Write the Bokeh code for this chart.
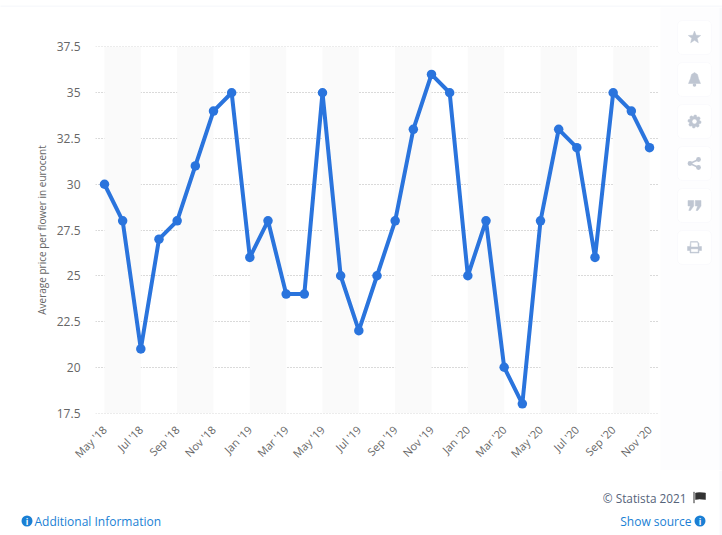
import math
from bokeh.plotting import figure
from bokeh.layouts import column, row
from bokeh.embed import file_html
from bokeh.resources import INLINE
from bokeh.models import Range1d, FixedTicker, BoxAnnotation
from bokeh.core.properties import value

months = ["May '18","Jun '18","Jul '18","Aug '18","Sep '18","Oct '18","Nov '18","Dec '18",
          "Jan '19","Feb '19","Mar '19","Apr '19","May '19","Jun '19","Jul '19","Aug '19",
          "Sep '19","Oct '19","Nov '19","Dec '19","Jan '20","Feb '20","Mar '20","Apr '20",
          "May '20","Jun '20","Jul '20","Aug '20","Sep '20","Oct '20","Nov '20"]
prices = [30,28,21,27,28,31,34,35,26,28,24,24,35,25,22,25,28,33,36,35,25,28,20,18,28,33,32,26,35,34,32]
y_ticks = [17.5,20,22.5,25,27.5,30,32.5,35,37.5]
y_title = "Average price per flower in eurocent"

FONT = "Open Sans"
PAGE = "#f8f9fc"
idx = list(range(len(months)))

# thin strip above the card
strip = figure(width=722, height=7, output_backend="svg", toolbar_location=None,
               x_axis_location=None, y_axis_location=None, min_border=0,
               x_range=Range1d(0, 722), y_range=Range1d(7, 0),
               background_fill_color=PAGE, border_fill_color=PAGE, outline_line_color=None)
strip.xgrid.visible = False
strip.ygrid.visible = False

# main chart
p = figure(width=660, height=463, output_backend="svg", toolbar_location=None,
           x_range=Range1d(-0.495, 30.495), y_range=Range1d(17.473, 37.527),
           min_border_left=95, min_border_right=2, min_border_top=39, min_border_bottom=57,
           background_fill_color="white", border_fill_color="white", outline_line_color=None)

p.quad(left=idx[0:30:4], right=idx[2:32:4], bottom=y_ticks[0], top=y_ticks[-1],
       fill_color="#fafafa", line_color=None)
p.line(idx, prices, line_color="#2a74dd", line_width=4, line_join="round")
p.scatter(idx, prices, size=9.5, fill_color="#2a74dd", line_color="#2a74dd", line_width=0)

p.xgrid.visible = False
p.ygrid.ticker = FixedTicker(ticks=y_ticks)
p.ygrid.grid_line_color = "#b4b4b4"
p.ygrid.grid_line_dash = "1 2"
p.ygrid.grid_line_width = 1

yax = p.yaxis[0]
yax.ticker = FixedTicker(ticks=y_ticks)
yax.major_label_overrides = {t: (str(int(t)) if t == int(t) else str(t)) for t in y_ticks}
yax.axis_line_color = None
yax.major_tick_line_color = None
yax.minor_tick_line_color = None
yax.major_label_text_font = FONT
yax.major_label_text_font_size = "12px"
yax.major_label_text_color = "#666666"
yax.major_label_standoff = 9
yax.axis_label = y_title
yax.axis_label_text_font = FONT
yax.axis_label_text_font_size = "10px"
yax.axis_label_text_font_style = "normal"
yax.axis_label_text_color = "#666666"
yax.axis_label_standoff = 5

xax = p.xaxis[0]
xax.ticker = FixedTicker(ticks=idx[0::2])
xax.major_label_overrides = {i: months[i] for i in idx[0::2]}
xax.axis_line_color = None
xax.major_tick_line_color = None
xax.minor_tick_line_color = None
xax.major_label_text_font = FONT
xax.major_label_text_font_size = "11px"
xax.major_label_text_color = "#666666"
xax.major_label_orientation = math.pi / 4
xax.major_label_standoff = 8


def pixel_fig(w, h, x0, y0, bg="white"):
    f = figure(width=w, height=h, output_backend="svg", toolbar_location=None,
               x_axis_location=None, y_axis_location=None, min_border=0,
               x_range=Range1d(x0, x0 + w), y_range=Range1d(y0 + h, y0),
               background_fill_color=bg, border_fill_color=bg, outline_line_color=None)
    f.xgrid.visible = False
    f.ygrid.visible = False
    return f


def text(f, x, y, s, size, color, align="left", font=FONT, style="normal"):
    f.text([x], [y], text=[s], text_font=value(font), text_font_size=f"{size}px", text_color=color,
           text_align=align, text_baseline="middle", text_font_style=style)


def circ(f, cx, cy, r, color):
    f.scatter([cx], [cy], size=2 * r, fill_color=color, line_color=None)


def poly(f, pts, color):
    f.patch([a for a, _ in pts], [b for _, b in pts], fill_color=color, line_color=color, line_width=0.5)


# side buttons
side = pixel_fig(62, 463, 660, 7, bg="#fdfdfe")
side.quad(left=[719], right=[722], top=[7], bottom=[470], fill_color=PAGE, line_color=None)
ICON = "#bfc6d2"
tops = [20, 62, 104, 146, 188, 230]
for t in tops:
    side.add_layout(BoxAnnotation(left=677, right=711, top=t, bottom=t + 34,
                                  fill_color="white", fill_alpha=1, line_color="#f1f3f7", line_width=1,
                                  border_radius=5, level="underlay"))
CX = 694
cy = 37
poly(side, [(CX + (6.5 if k % 2 == 0 else 2.8) * math.sin(k * math.pi / 5),
             cy - (6.5 if k % 2 == 0 else 2.8) * math.cos(k * math.pi / 5)) for k in range(10)], ICON)
cy = 79
poly(side, [(CX, cy - 7), (CX + 3, cy - 5), (CX + 4, cy - 1), (CX + 6, cy + 4), (CX - 6, cy + 4),
            (CX - 4, cy - 1), (CX - 3, cy - 5)], ICON)
circ(side, CX, cy + 5.5, 1.8, ICON)
cy = 121
poly(side, [(CX + (6.6 if k % 3 < 2 else 4.9) * math.cos(k * math.pi / 12),
             cy + (6.6 if k % 3 < 2 else 4.9) * math.sin(k * math.pi / 12)) for k in range(24)], ICON)
circ(side, CX, cy, 2.2, "white")
cy = 163
circ(side, CX + 4, cy - 4, 2.4, ICON)
circ(side, CX + 4, cy + 4, 2.4, ICON)
circ(side, CX - 4.5, cy, 2.4, ICON)
side.segment([CX + 4, CX + 4], [cy - 4, cy + 4], [CX - 4.5, CX - 4.5], [cy, cy], line_color=ICON, line_width=1.5)
cy = 205
for dx in (-6.5, 0.8):
    poly(side, [(CX + dx, cy - 5), (CX + dx + 5.7, cy - 5), (CX + dx + 5.7, cy + 0.5), (CX + dx + 2.5, cy + 5),
                (CX + dx + 0.8, cy + 5), (CX + dx + 2.4, cy + 0.5), (CX + dx, cy + 0.5)], ICON)
cy = 247
poly(side, [(CX - 4, cy - 6), (CX + 3, cy - 6), (CX + 4.5, cy - 4), (CX + 4.5, cy - 1), (CX + 7, cy - 1), (CX + 7, cy + 3),
            (CX + 4.5, cy + 3), (CX + 4.5, cy + 5.5), (CX - 4.5, cy + 5.5), (CX - 4.5, cy + 3), (CX - 7, cy + 3), (CX - 7, cy - 1),
            (CX - 4.5, cy - 1)], ICON)
poly(side, [(CX - 3.2, cy - 4.8), (CX + 2.8, cy - 4.8), (CX + 3.2, cy - 1), (CX - 3.2, cy - 1)], "white")
poly(side, [(CX - 3.2, cy + 1.8), (CX + 3.2, cy + 1.8), (CX + 3.2, cy + 4.2), (CX - 3.2, cy + 4.2)], "white")

# footer
foot = pixel_fig(722, 65, 0, 470)
foot.quad(left=[719], right=[722], top=[470], bottom=[535], fill_color=PAGE, line_color=None)
text(foot, 686, 497, "\u00a9 Statista 2021", 11.8, "#55637a", align="right")
poly(foot, [(693, 491.5), (694, 491.5), (694, 502.5), (693, 502.5)], "#777777")
poly(foot, [(695, 492.5), (699, 492), (705, 492.5), (705, 499), (699, 498.5), (695, 499)], "#333333")
text(foot, 34, 521, "Additional Information", 12, "#1a7fd4")
circ(foot, 26.5, 520.5, 5.5, "#1a7fd4")
text(foot, 26.5, 520.5, "i", 8.5, "white", align="center", style="bold")
text(foot, 691, 521, "Show source", 12, "#1a7fd4", align="right")
circ(foot, 699.5, 520.5, 5.5, "#1a7fd4")
text(foot, 699.5, 520.5, "i", 8.5, "white", align="center", style="bold")

page = column(strip, row(p, column(side)), foot)
open("out.html", "w").write(file_html(page, INLINE))
